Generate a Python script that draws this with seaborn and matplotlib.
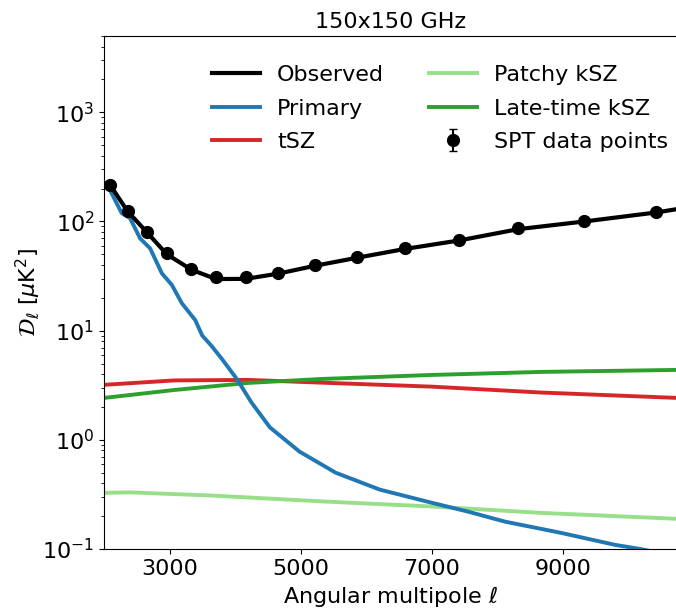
import numpy as np
import pandas as pd
import matplotlib
matplotlib.use("Agg")
import matplotlib.pyplot as plt
import seaborn as sns

# ---- data ----
ell_obs = [2000, 2100, 2360, 2660, 2960, 3340, 3710, 4160, 4660, 5220, 5860,
           6590, 7420, 8320, 9330, 10430, 10750]
dl_obs = [225, 213, 124, 79, 50, 36, 29.7, 29.8, 33.3, 39.3, 46.5,
          56, 67, 85, 100, 121, 130]

ell_primary = [2000, 2066, 2271, 2398, 2551, 2704, 2883, 3036, 3189, 3392, 3500,
               3637, 3800, 4028, 4250, 4532, 4984, 5535, 6208, 7004, 7555,
               8121, 8963, 9804, 10187, 10750]
dl_primary = [225, 208, 119, 107, 70, 56.7, 33.5, 26.2, 17.8, 12.5, 9.0,
              7.3, 5.5, 3.6, 2.2, 1.3, 0.78, 0.50, 0.35, 0.265, 0.22,
              0.178, 0.141, 0.109, 0.100, 0.085]

ell_fg = [2000, 3071, 4196, 5320, 7004, 8681, 10750]
dl_tsz = [3.19, 3.50, 3.54, 3.34, 3.07, 2.71, 2.42]
dl_ksz_late = [2.42, 2.86, 3.32, 3.61, 3.93, 4.19, 4.37]
ell_patchy = [2000, 2400, 3637, 5320, 7004, 8681, 10750]
dl_ksz_patchy = [0.327, 0.330, 0.309, 0.273, 0.245, 0.214, 0.189]

ell_spt = [2090, 2360, 2655, 2960, 3335, 3710, 4160, 4660, 5215,
           5860, 6590, 7420, 8320, 9330, 10430]
dl_spt = [215, 125, 80.5, 51.7, 36.9, 31.2, 31.2, 33.5, 39.7,
          47.2, 57.1, 67.6, 87, 100.8, 122]
err_spt = [6, 3.5, 2.2, 1.4, 1.0, 0.9, 0.9, 1.0, 1.2,
           1.5, 2.0, 2.5, 3.5, 5, 8]

x_ticks = [3000, 5000, 7000, 9000]

# ---- figure ----
plt.rcParams["font.family"] = ["DejaVu Sans"]
plt.rcParams["mathtext.fontset"] = "dejavusans"

fig = plt.figure(figsize=(6.76, 6.08), dpi=100)
ax = fig.add_axes([104 / 676, 59 / 608, (676 - 104) / 676 + 0.002, (549 - 36) / 608])

lw = 2.8
sns.lineplot(x=ell_primary, y=dl_primary, ax=ax, color="#1f77b4", lw=lw,
             label="Primary", sort=False, zorder=3)
sns.lineplot(x=ell_fg, y=dl_tsz, ax=ax, color="#d62728", lw=lw,
             label="tSZ", sort=False, zorder=2)
sns.lineplot(x=ell_patchy, y=dl_ksz_patchy, ax=ax, color="#98df8a", lw=lw,
             label="Patchy kSZ", sort=False, zorder=2)
sns.lineplot(x=ell_fg, y=dl_ksz_late, ax=ax, color="#2ca02c", lw=lw,
             label="Late-time kSZ", sort=False, zorder=2)
sns.lineplot(x=ell_obs, y=dl_obs, ax=ax, color="black", lw=lw + 0.2,
             label="Observed", sort=False, zorder=4)
eb = ax.errorbar(ell_spt, dl_spt, yerr=err_spt, fmt="o", color="black",
                 markersize=8.5, capsize=3, elinewidth=1.5, zorder=5,
                 label="SPT data points")

ax.set_yscale("log")
ax.set_xlim(2000, 10750)
ax.set_ylim(0.1, 5000)
ax.set_xticks(x_ticks)
ax.set_xticklabels([str(t) for t in x_ticks])
ax.tick_params(axis="both", labelsize=16)
ax.set_xlabel(r"Angular multipole $\ell$", fontsize=16)
ax.set_ylabel(r"$\mathcal{D}_\ell$ [$\mu$K$^2$]", fontsize=16, labelpad=0)
ax.set_title("150x150 GHz", fontsize=16)
ax.spines["right"].set_visible(False)

handles, labels = ax.get_legend_handles_labels()
order = ["Observed", "Primary", "tSZ", "Patchy kSZ", "Late-time kSZ", "SPT data points"]
hmap = dict(zip(labels, handles))
ax.legend([hmap[k] for k in order], order, ncol=2, frameon=False, fontsize=16,
          loc="upper right", bbox_to_anchor=(1.019, 0.982), handlelength=2.2,
          labelspacing=0.6, handletextpad=0.75)

fig.savefig("out.png", dpi=100)
